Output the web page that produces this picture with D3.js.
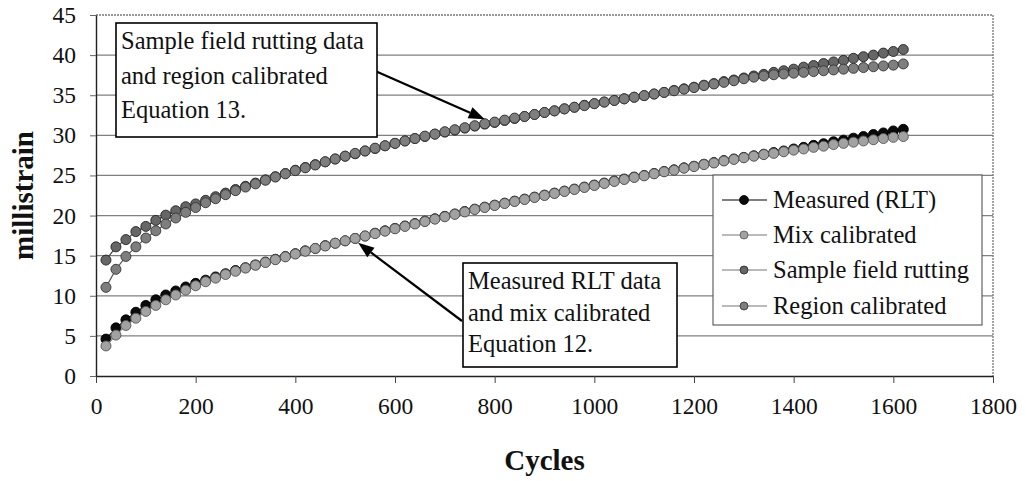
<!DOCTYPE html>
<html>
<head>
<meta charset="utf-8">
<script src="https://cdn.jsdelivr.net/npm/d3@7"></script>
<style>
  html, body { margin: 0; padding: 0; background: #fff; }
  svg { display: block; }
  text { font-family: "Liberation Serif", "Times New Roman", serif; fill: #111; }
</style>
</head>
<body>
<svg id="chart" width="1026" height="481"></svg>
<script>
// Load cycles, one reading every 20 cycles
const cycles = [20,40,60,80,100,120,140,160,180,200,220,240,260,280,300,320,340,360,380,400,
  420,440,460,480,500,520,540,560,580,600,620,640,660,680,700,720,740,760,780,800,
  820,840,860,880,900,920,940,960,980,1000,1020,1040,1060,1080,1100,1120,1140,1160,1180,1200,
  1220,1240,1260,1280,1300,1320,1340,1360,1380,1400,1420,1440,1460,1480,1500,1520,1540,1560,1580,1600,1620];

const measuredRLT = [4.6,6.0,7.0,7.95,8.8,9.5,10.1,10.6,11.1,11.55,11.95,12.35,12.75,13.15,13.5,13.85,14.2,14.55,14.9,15.25,
  15.6,15.9,16.25,16.55,16.85,17.15,17.45,17.8,18.1,18.4,18.7,19.0,19.3,19.6,19.9,20.2,20.5,20.8,21.05,21.3,
  21.55,21.8,22.05,22.3,22.55,22.8,23.05,23.3,23.55,23.8,24.05,24.3,24.55,24.8,25.0,25.25,25.5,25.7,25.95,26.15,
  26.4,26.6,26.85,27.05,27.25,27.45,27.65,27.85,28.05,28.3,28.5,28.75,28.95,29.2,29.4,29.65,29.85,30.1,30.3,30.55,30.75];

const mixCalibrated = [3.75,5.1,6.3,7.2,8.05,8.8,9.5,10.1,10.7,11.25,11.75,12.2,12.65,13.05,13.45,13.8,14.15,14.5,14.85,15.2,
  15.55,15.9,16.2,16.55,16.85,17.15,17.45,17.75,18.05,18.35,18.65,18.95,19.25,19.55,19.85,20.15,20.45,20.75,21.0,21.25,
  21.5,21.75,22.0,22.25,22.5,22.75,23.0,23.25,23.5,23.75,24.0,24.25,24.5,24.75,24.95,25.2,25.45,25.65,25.9,26.1,
  26.35,26.55,26.8,27.0,27.2,27.4,27.6,27.75,27.95,28.15,28.3,28.5,28.65,28.85,29.0,29.15,29.3,29.45,29.6,29.75,29.85];

const sampleFieldRutting = [14.45,16.1,17.0,18.0,18.65,19.4,20.05,20.6,21.1,21.45,21.9,22.35,22.8,23.25,23.65,24.05,24.45,24.85,25.25,25.65,
  26.0,26.35,26.7,27.05,27.4,27.7,28.05,28.35,28.7,29.0,29.3,29.6,29.85,30.15,30.4,30.65,30.9,31.15,31.4,31.6,
  31.85,32.1,32.35,32.6,32.85,33.05,33.3,33.5,33.75,33.95,34.15,34.35,34.55,34.75,34.95,35.15,35.35,35.6,35.8,36.0,
  36.25,36.45,36.7,36.9,37.15,37.4,37.6,37.85,38.05,38.25,38.5,38.7,38.95,39.15,39.35,39.6,39.8,40.0,40.25,40.45,40.7];

const regionCalibrated = [11.05,13.3,14.9,16.1,17.2,18.1,18.95,19.7,20.4,21.0,21.6,22.1,22.6,23.1,23.55,23.95,24.4,24.8,25.2,25.6,
  25.95,26.3,26.7,27.05,27.4,27.75,28.05,28.4,28.7,29.0,29.3,29.6,29.9,30.15,30.45,30.7,30.95,31.2,31.45,31.65,
  31.9,32.15,32.35,32.6,32.85,33.05,33.3,33.5,33.7,33.95,34.15,34.35,34.55,34.75,34.95,35.15,35.35,35.55,35.75,35.95,
  36.2,36.4,36.6,36.8,37.05,37.25,37.4,37.55,37.65,37.75,37.85,37.95,38.05,38.15,38.25,38.35,38.45,38.55,38.65,38.75,38.9];

const seriesNames = ["Measured (RLT)", "Mix calibrated", "Sample field rutting", "Region calibrated"];
const seriesValues = [measuredRLT, mixCalibrated, sampleFieldRutting, regionCalibrated];

const xTicks = [0,200,400,600,800,1000,1200,1400,1600,1800];
const yTicks = [0,5,10,15,20,25,30,35,40,45];

const noteUpper = ["Sample field rutting data", "and region calibrated", "Equation 13."];
const noteLower = ["Measured RLT data", "and mix calibrated", "Equation 12."];
// arrow tips in data units [cycles, millistrain]
const noteUpperTip = [780, 32.0];
const noteLowerTip = [526, 16.6];

// marker / line styles per series
const styles = [
  { fill: "#0a0a0a", stroke: "#000", line: "#000" },
  { fill: "#a2a2a2", stroke: "#555", line: "#888" },
  { fill: "#666", stroke: "#222", line: "#444" },
  { fill: "#7e7e7e", stroke: "#333", line: "#555" }
];

const svg = d3.select("#chart");
const plotLeft = 96, plotRight = 993, plotTop = 15, plotBottom = 376;

const x = d3.scaleLinear().domain([0, 1800]).range([plotLeft, plotRight]);
const y = d3.scaleLinear().domain([0, 45]).range([plotBottom, plotTop]);

// gridlines
svg.append("g")
  .selectAll("line")
  .data(yTicks.filter(t => t > 0 && t < 45))
  .join("line")
  .attr("x1", plotLeft).attr("x2", plotRight)
  .attr("y1", d => y(d)).attr("y2", d => y(d))
  .attr("stroke", "#808080").attr("stroke-width", 1.2);

// plot frame: top and right edges
svg.append("line").attr("x1", plotLeft).attr("x2", plotRight).attr("y1", plotTop).attr("y2", plotTop)
  .attr("stroke", "#777").attr("stroke-width", 1.3).attr("stroke-dasharray", "2,1");
svg.append("line").attr("x1", plotRight).attr("x2", plotRight).attr("y1", plotTop).attr("y2", plotBottom)
  .attr("stroke", "#777").attr("stroke-width", 1.3).attr("stroke-dasharray", "2,1");

// axes
const xAxis = d3.axisBottom(x).tickValues(xTicks).tickFormat(d3.format("d"))
  .tickSize(7).tickPadding(14).tickSizeOuter(0);
const gx = svg.append("g").attr("transform", `translate(0,${plotBottom})`).call(xAxis);
gx.select(".domain").attr("stroke", "#222").attr("stroke-width", 1.4);
gx.selectAll(".tick line").attr("stroke", "#444");
gx.selectAll("text").attr("font-size", 23.5).attr("font-family", "Liberation Serif").attr("fill", "#111");

const yAxis = d3.axisLeft(y).tickValues(yTicks).tickFormat(d3.format("d"))
  .tickSize(6).tickPadding(14).tickSizeOuter(0);
const gy = svg.append("g").attr("transform", `translate(${plotLeft},0)`).call(yAxis);
gy.select(".domain").attr("stroke", "#222").attr("stroke-width", 1.4);
gy.selectAll(".tick line").attr("stroke", "#666");
gy.selectAll("text").attr("font-size", 23.5).attr("font-family", "Liberation Serif").attr("fill", "#111");

// axis titles
svg.append("text")
  .attr("x", (plotLeft + plotRight) / 2).attr("y", 470)
  .attr("text-anchor", "middle")
  .attr("font-size", 29).attr("font-weight", "bold")
  .text("Cycles");
svg.append("text")
  .attr("transform", `translate(33,${(plotTop + plotBottom) / 2}) rotate(-90)`)
  .attr("text-anchor", "middle")
  .attr("font-size", 29).attr("font-weight", "bold")
  .text("millistrain");

// series
const line = d3.line().x((d, i) => x(cycles[i])).y(d => y(d));
seriesValues.forEach((vals, s) => {
  const g = svg.append("g");
  g.append("path").datum(vals)
    .attr("d", line)
    .attr("fill", "none")
    .attr("stroke", styles[s].line)
    .attr("stroke-width", 1.2);
  g.selectAll("circle").data(vals).join("circle")
    .attr("cx", (d, i) => x(cycles[i]))
    .attr("cy", d => y(d))
    .attr("r", 5)
    .attr("fill", styles[s].fill)
    .attr("stroke", styles[s].stroke)
    .attr("stroke-width", 0.9);
});

// annotation boxes with arrows
function note(lines, box, baselines, tip, from) {
  const g = svg.append("g");
  const tx = x(tip[0]), ty = y(tip[1]);
  const ang = Math.atan2(ty - from[1], tx - from[0]);
  const headLen = 16, headW = 6;
  const bx = tx - headLen * Math.cos(ang), by = ty - headLen * Math.sin(ang);
  g.append("line")
    .attr("x1", from[0]).attr("y1", from[1]).attr("x2", bx).attr("y2", by)
    .attr("stroke", "#000").attr("stroke-width", 2.2);
  g.append("path")
    .attr("d", `M${tx},${ty} L${bx + headW * Math.sin(ang)},${by - headW * Math.cos(ang)} L${bx - headW * Math.sin(ang)},${by + headW * Math.cos(ang)} Z`)
    .attr("fill", "#000");
  g.append("rect")
    .attr("x", box[0]).attr("y", box[1]).attr("width", box[2]).attr("height", box[3])
    .attr("fill", "#fff").attr("stroke", "#000").attr("stroke-width", 1.6);
  lines.forEach((t, i) => {
    g.append("text").attr("x", box[0] + 5).attr("y", baselines[i])
      .attr("font-size", 24.5).text(t);
  });
}
note(noteUpper, [116, 23, 261, 114], [49, 84, 118], noteUpperTip, [373, 70]);
note(noteLower, [463, 263, 214, 104], [289, 321, 352], noteLowerTip, [462, 321]);

// legend
const lg = svg.append("g");
lg.append("rect").attr("x", 713).attr("y", 175).attr("width", 269).attr("height", 150)
  .attr("fill", "#fff").attr("stroke", "#555").attr("stroke-width", 1.1);
const legendRows = [200, 235, 270, 306];
seriesNames.forEach((name, s) => {
  const cy = legendRows[s];
  lg.append("line").attr("x1", 722).attr("x2", 767).attr("y1", cy).attr("y2", cy)
    .attr("stroke", s === 0 ? "#000" : "#777").attr("stroke-width", 1.2);
  lg.append("circle").attr("cx", 744).attr("cy", cy).attr("r", s === 0 ? 4.5 : 4)
    .attr("fill", styles[s].fill).attr("stroke", styles[s].stroke).attr("stroke-width", 0.8);
  lg.append("text").attr("x", 773).attr("y", cy + 8).attr("font-size", 24.5).text(name);
});
</script>
</body>
</html>
